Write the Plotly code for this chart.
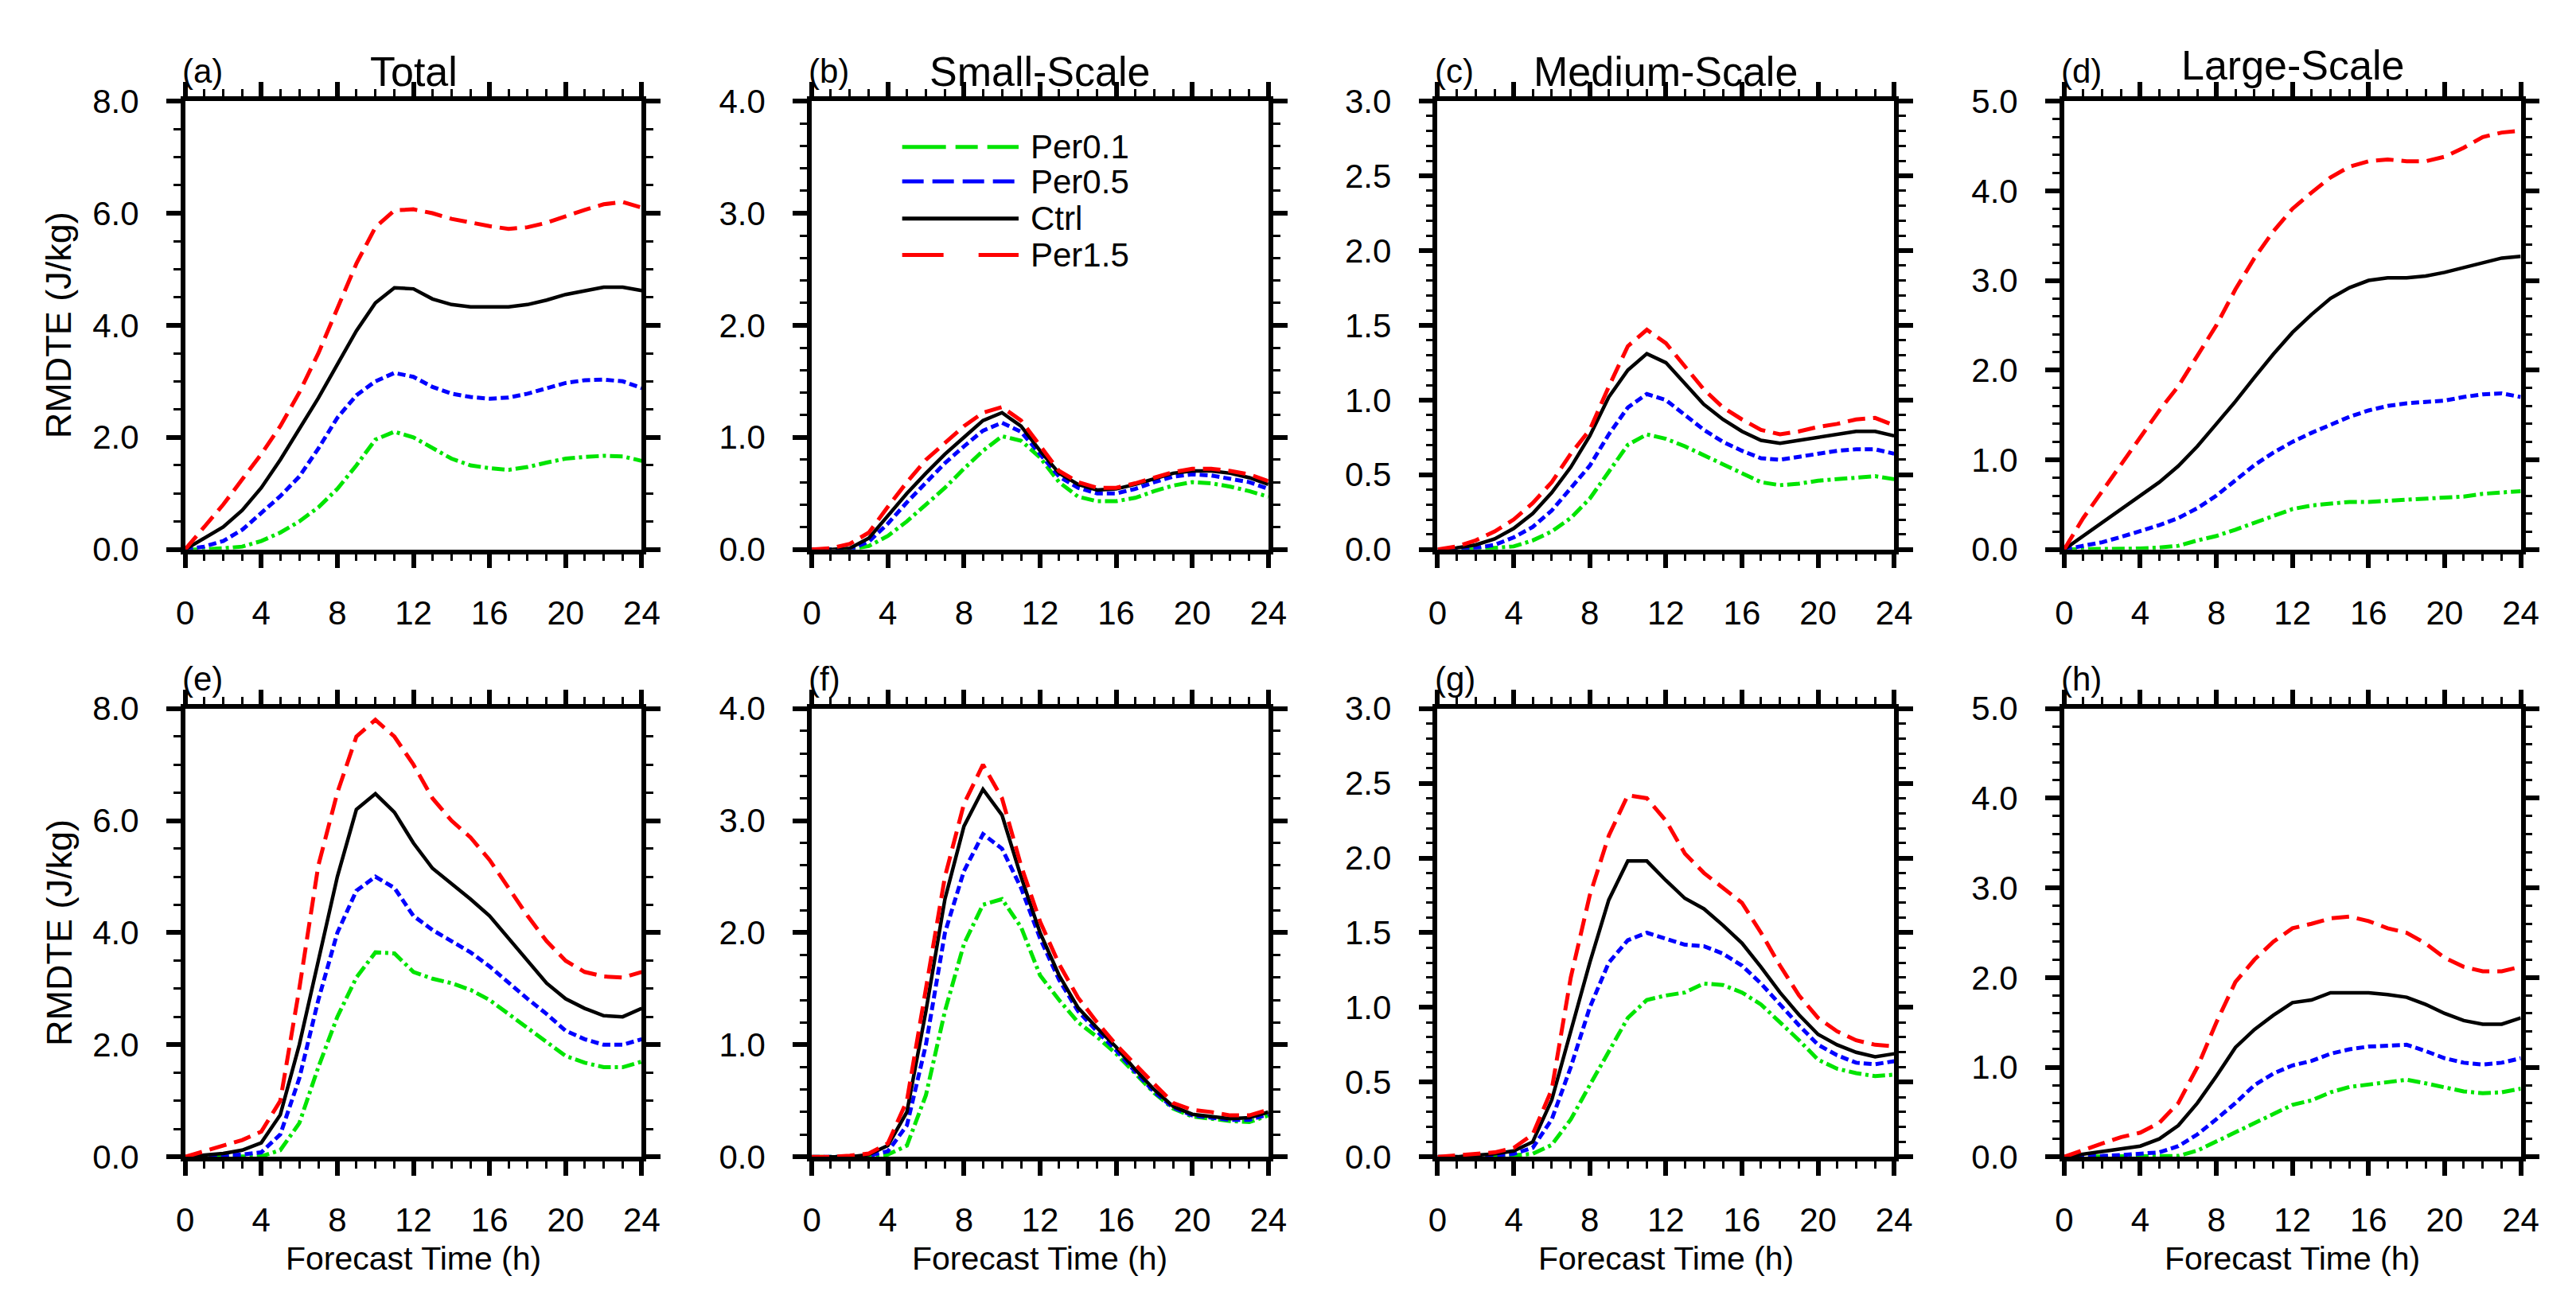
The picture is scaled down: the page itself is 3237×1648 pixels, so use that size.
"""
RMDTE growth by scale: 2x4 panel line chart (NCL-style) rebuilt with Plotly.
"""
import plotly.graph_objects as go

# ---- data ----
HOURS = list(range(25))

SERIES_NAMES = ['Per0.1', 'Per0.5', 'Ctrl', 'Per1.5']
PANEL_LABELS = ['(a)', '(b)', '(c)', '(d)', '(e)', '(f)', '(g)', '(h)']
COLUMN_TITLES = ['Total', 'Small-Scale', 'Medium-Scale', 'Large-Scale']
Y_MAX = [8.0, 4.0, 3.0, 5.0]
Y_DTICK = [2.0, 1.0, 0.5, 1.0]
Y_MINOR = [0.5, 0.2, 0.1, 0.2]
X_TICKS = [0, 4, 8, 12, 16, 20, 24]

# (a) Total, upper row
PER01_A = [0, 0, 0.02, 0.05, 0.15, 0.3, 0.5, 0.75, 1.08, 1.5, 1.96, 2.1, 2.0, 1.8, 1.62,
           1.5, 1.45, 1.42, 1.47, 1.55, 1.62, 1.65, 1.67, 1.66, 1.58]
PER05_A = [0, 0.05, 0.15, 0.35, 0.65, 0.95, 1.3, 1.8, 2.35, 2.75, 3.0, 3.15, 3.08, 2.9, 2.78,
           2.72, 2.69, 2.71, 2.78, 2.88, 2.97, 3.02, 3.03, 3.0, 2.88]
CTRL_A = [0, 0.2, 0.4, 0.7, 1.1, 1.6, 2.15, 2.7, 3.3, 3.9, 4.4, 4.67, 4.65, 4.47, 4.37,
          4.33, 4.33, 4.33, 4.37, 4.45, 4.55, 4.62, 4.68, 4.68, 4.62]
PER15_A = [0, 0.4, 0.8, 1.25, 1.7, 2.2, 2.8, 3.5, 4.3, 5.1, 5.75, 6.05, 6.07, 6.0, 5.9,
           5.83, 5.77, 5.72, 5.75, 5.83, 5.95, 6.06, 6.16, 6.2, 6.1]

# (b) Small-Scale, upper row
PER01_B = [0, 0, 0, 0.03, 0.12, 0.25, 0.4, 0.55, 0.72, 0.88, 1.01, 0.97, 0.82, 0.6, 0.47,
           0.43, 0.43, 0.46, 0.52, 0.57, 0.6, 0.59, 0.56, 0.52, 0.47]
PER05_B = [0, 0, 0, 0.07, 0.23, 0.42, 0.6, 0.77, 0.92, 1.06, 1.13, 1.05, 0.85, 0.65, 0.55,
           0.5, 0.5, 0.54, 0.6, 0.65, 0.67, 0.66, 0.63, 0.6, 0.54]
CTRL_B = [0, 0, 0.01, 0.1, 0.3, 0.5, 0.68, 0.85, 1.0, 1.15, 1.22, 1.1, 0.88, 0.68, 0.58,
          0.53, 0.54, 0.58, 0.63, 0.68, 0.7, 0.7, 0.68, 0.64, 0.58]
PER15_B = [0, 0.01, 0.05, 0.15, 0.38, 0.6, 0.8, 0.95, 1.1, 1.22, 1.27, 1.15, 0.92, 0.7, 0.6,
           0.55, 0.55, 0.59, 0.64, 0.69, 0.72, 0.72, 0.7, 0.67, 0.61]

# (c) Medium-Scale, upper row
PER01_C = [0, 0, 0, 0.01, 0.02, 0.06, 0.12, 0.21, 0.34, 0.52, 0.7, 0.77, 0.74, 0.69, 0.63,
           0.57, 0.51, 0.45, 0.43, 0.44, 0.46, 0.47, 0.48, 0.49, 0.47]
PER05_C = [0, 0, 0.01, 0.03, 0.08, 0.15, 0.26, 0.41, 0.56, 0.77, 0.95, 1.04, 1.0, 0.9, 0.8,
           0.72, 0.66, 0.61, 0.6, 0.62, 0.64, 0.66, 0.67, 0.67, 0.64]
CTRL_C = [0, 0.01, 0.03, 0.07, 0.14, 0.24, 0.38, 0.55, 0.76, 1.02, 1.2, 1.31, 1.25, 1.11, 0.97,
          0.87, 0.79, 0.73, 0.71, 0.73, 0.75, 0.77, 0.79, 0.79, 0.76]
PER15_C = [0, 0.02, 0.06, 0.12, 0.2, 0.31, 0.45, 0.64, 0.8, 1.09, 1.36, 1.47, 1.38, 1.22, 1.07,
           0.95, 0.87, 0.8, 0.77, 0.79, 0.82, 0.84, 0.87, 0.88, 0.83]

# (d) Large-Scale, upper row
PER01_D = [0, 0, 0, 0, 0.01, 0.02, 0.04, 0.1, 0.15, 0.22, 0.3, 0.37, 0.45, 0.49, 0.51,
           0.53, 0.53, 0.54, 0.55, 0.56, 0.57, 0.59, 0.62, 0.64, 0.65]
PER05_D = [0, 0.04, 0.08, 0.14, 0.2, 0.27, 0.35, 0.46, 0.6, 0.77, 0.94, 1.08, 1.2, 1.3, 1.39,
           1.48, 1.55, 1.6, 1.63, 1.64, 1.66, 1.7, 1.73, 1.74, 1.7]
CTRL_D = [0, 0.15, 0.3, 0.45, 0.59, 0.75, 0.93, 1.15, 1.4, 1.65, 1.92, 2.18, 2.42, 2.62, 2.8,
          2.92, 3.0, 3.03, 3.03, 3.05, 3.09, 3.14, 3.2, 3.25, 3.27]
PER15_D = [0, 0.35, 0.65, 0.95, 1.25, 1.55, 1.82, 2.15, 2.5, 2.9, 3.25, 3.55, 3.8, 3.98, 4.15,
           4.27, 4.33, 4.35, 4.33, 4.33, 4.38, 4.48, 4.6, 4.65, 4.67]

# (e) Total, lower row
PER01_E = [0, 0, 0, 0, 0.01, 0.12, 0.6, 1.6, 2.5, 3.2, 3.65, 3.63, 3.3, 3.18, 3.1,
           2.98, 2.8, 2.55, 2.3, 2.05, 1.8, 1.68, 1.6, 1.6, 1.7]
PER05_E = [0, 0.01, 0.02, 0.04, 0.08, 0.4, 1.4, 2.8, 4.0, 4.75, 5.0, 4.8, 4.3, 4.05, 3.85,
           3.65, 3.4, 3.1, 2.82, 2.55, 2.25, 2.1, 2.0, 2.0, 2.1]
CTRL_E = [0, 0.03, 0.06, 0.12, 0.25, 0.75, 2.0, 3.5, 5.0, 6.2, 6.48, 6.15, 5.6, 5.15, 4.88,
          4.6, 4.3, 3.9, 3.5, 3.1, 2.82, 2.65, 2.52, 2.5, 2.65]
PER15_E = [0, 0.1, 0.2, 0.3, 0.45, 1.0, 3.0, 5.2, 6.5, 7.5, 7.8, 7.5, 7.0, 6.4, 6.0,
           5.7, 5.3, 4.8, 4.3, 3.85, 3.5, 3.3, 3.22, 3.2, 3.3]

# (f) Small-Scale, lower row
PER01_F = [0, 0, 0, 0, 0.02, 0.1, 0.55, 1.3, 1.9, 2.25, 2.3, 2.05, 1.62, 1.4, 1.2,
           1.07, 0.92, 0.74, 0.57, 0.43, 0.36, 0.34, 0.32, 0.31, 0.37]
PER05_F = [0, 0, 0, 0.01, 0.05, 0.28, 1.0, 2.0, 2.55, 2.88, 2.75, 2.4, 1.95, 1.58, 1.3,
           1.12, 0.95, 0.76, 0.58, 0.44, 0.37, 0.35, 0.33, 0.33, 0.38]
CTRL_F = [0, 0, 0, 0.02, 0.1, 0.4, 1.3, 2.3, 2.95, 3.28, 3.05, 2.5, 2.0, 1.62, 1.33,
          1.15, 0.98, 0.78, 0.6, 0.45, 0.38, 0.36, 0.34, 0.35, 0.4]
PER15_F = [0, 0, 0.01, 0.03, 0.12, 0.5, 1.5, 2.5, 3.15, 3.5, 3.2, 2.6, 2.1, 1.72, 1.42,
           1.2, 1.0, 0.82, 0.65, 0.48, 0.42, 0.4, 0.37, 0.37, 0.42]

# (g) Medium-Scale, lower row
PER01_G = [0, 0, 0, 0, 0.01, 0.02, 0.08, 0.25, 0.48, 0.7, 0.93, 1.05, 1.08, 1.1, 1.16,
           1.15, 1.1, 1.02, 0.9, 0.78, 0.65, 0.59, 0.56, 0.54, 0.55]
PER05_G = [0, 0, 0, 0.01, 0.02, 0.06, 0.25, 0.6, 1.0, 1.3, 1.45, 1.5, 1.46, 1.42, 1.41,
           1.36, 1.28, 1.16, 1.02, 0.88, 0.75, 0.68, 0.63, 0.62, 0.64]
CTRL_G = [0, 0, 0.01, 0.02, 0.04, 0.1, 0.38, 0.85, 1.3, 1.72, 1.98, 1.98, 1.85, 1.73, 1.66,
          1.55, 1.43, 1.27, 1.1, 0.95, 0.82, 0.75, 0.7, 0.67, 0.69]
PER15_G = [0, 0.01, 0.02, 0.03, 0.06, 0.15, 0.45, 1.2, 1.75, 2.15, 2.42, 2.4, 2.25, 2.03, 1.9,
           1.8, 1.7, 1.5, 1.28, 1.08, 0.93, 0.84, 0.78, 0.75, 0.74]

# (h) Large-Scale, lower row
PER01_H = [0, 0, 0, 0, 0, 0, 0.01, 0.07, 0.17, 0.28, 0.38, 0.48, 0.58, 0.63, 0.72,
           0.78, 0.81, 0.84, 0.86, 0.82, 0.77, 0.73, 0.71, 0.72, 0.76]
PER05_H = [0, 0, 0.01, 0.02, 0.03, 0.05, 0.12, 0.25, 0.42, 0.6, 0.8, 0.93, 1.02, 1.07, 1.15,
           1.2, 1.23, 1.24, 1.25, 1.18, 1.1, 1.05, 1.03, 1.05, 1.1]
CTRL_H = [0, 0.03, 0.06, 0.09, 0.12, 0.2, 0.35, 0.6, 0.9, 1.22, 1.42, 1.58, 1.72, 1.75, 1.83,
          1.83, 1.83, 1.81, 1.78, 1.7, 1.6, 1.52, 1.48, 1.48, 1.55]
PER15_H = [0, 0.08, 0.15, 0.22, 0.27, 0.38, 0.6, 1.0, 1.5, 1.95, 2.2, 2.4, 2.55, 2.6, 2.66,
           2.68, 2.63, 2.55, 2.5, 2.38, 2.22, 2.12, 2.07, 2.07, 2.12]

PANELS = [
    [PER01_A, PER05_A, CTRL_A, PER15_A],
    [PER01_B, PER05_B, CTRL_B, PER15_B],
    [PER01_C, PER05_C, CTRL_C, PER15_C],
    [PER01_D, PER05_D, CTRL_D, PER15_D],
    [PER01_E, PER05_E, CTRL_E, PER15_E],
    [PER01_F, PER05_F, CTRL_F, PER15_F],
    [PER01_G, PER05_G, CTRL_G, PER15_G],
    [PER01_H, PER05_H, CTRL_H, PER15_H],
]

# ---- styling ----
W, H = 3237, 1648
FONT = 'Liberation Sans, Arial, Helvetica, sans-serif'
COLORS = ['#00e400', '#0000ff', '#000000', '#ff0000']
DASHES = ['16px,5px,4px,5px', '10px,5px', 'solid', '22px,10px']
LEGEND_DASHES = ['55px,12px,28px,12px', '27px,11px', 'solid', '52px,44px']
LINE_W = [5, 5, 4.5, 5]

PANEL_LEFT = [215, 1011, 1806, 2602]   # pixels
PANEL_W = 580
ROW_TOP = [99, 885]
ROW_H = 580
TITLE_SHIFT = [6, 6, 6, 14]


def px_x(v):
    return v / W


def px_y(v):
    return 1 - v / H


fig = go.Figure()

for i, series in enumerate(PANELS):
    row, col = divmod(i, 4)
    n = '' if i == 0 else str(i + 1)
    for name, vals, color, dash, lw in zip(SERIES_NAMES, series, COLORS, DASHES, LINE_W):
        fig.add_trace(go.Scatter(
            x=HOURS, y=vals, mode='lines', name=name,
            line=dict(color=color, width=lw, dash=dash),
            xaxis='x' + n, yaxis='y' + n, showlegend=False,
        ))

    left = PANEL_LEFT[col]
    top = ROW_TOP[row]
    common = dict(
        showline=True, linecolor='black', linewidth=5.5, mirror='allticks',
        ticks='outside', ticklen=18, tickwidth=5.5, tickcolor='black',
        showgrid=False, zeroline=False,
        tickfont=dict(family=FONT, size=42, color='black'),
    )
    fig.update_layout({
        'xaxis' + n: dict(
            domain=[px_x(left), px_x(left + PANEL_W)],
            anchor='y' + n, range=[0, 24], tickvals=X_TICKS,
            ticklabelstandoff=20,
            minor=dict(dtick=1, ticks='outside', ticklen=9, tickwidth=3, tickcolor='black'),
            **common,
        ),
        'yaxis' + n: dict(
            domain=[px_y(top + ROW_H), px_y(top)],
            anchor='x' + n, range=[0, Y_MAX[col]], dtick=Y_DTICK[col], tick0=0,
            tickformat='.1f', ticklabelstandoff=26,
            minor=dict(dtick=Y_MINOR[col], ticks='outside', ticklen=9, tickwidth=3,
                       tickcolor='black'),
            **common,
        ),
    })

    # panel letter
    fig.add_annotation(
        text=PANEL_LABELS[i], xref='paper', yref='paper',
        x=px_x(left - 6), y=px_y(top), xanchor='left', yanchor='bottom', yshift=12,
        showarrow=False, font=dict(family=FONT, size=42, color='black'),
    )
    # column title on top row
    if row == 0:
        fig.add_annotation(
            text=COLUMN_TITLES[col], xref='paper', yref='paper',
            x=px_x(left + PANEL_W / 2), y=px_y(top), xanchor='center', yanchor='bottom',
            yshift=TITLE_SHIFT[col], showarrow=False,
            font=dict(family=FONT, size=52, color='black'),
        )
    # y title on the left column
    if col == 0:
        fig.add_annotation(
            text='RMDTE (J/kg)', xref='paper', yref='paper',
            x=px_x(55), y=px_y(top + ROW_H / 2), textangle=-90,
            xanchor='center', yanchor='middle', showarrow=False,
            font=dict(family=FONT, size=45, color='black'),
        )
    # x title on the bottom row
    if row == 1:
        fig.add_annotation(
            text='Forecast Time (h)', xref='paper', yref='paper',
            x=px_x(left + PANEL_W / 2), y=px_y(1597), xanchor='center', yanchor='middle',
            showarrow=False, font=dict(family=FONT, size=41, color='black'),
        )

# legend drawn inside panel (b), NCL style
LEG_Y = [0.898, 0.821, 0.738, 0.657]
for name, color, dash, ly in zip(SERIES_NAMES, COLORS, LEGEND_DASHES, LEG_Y):
    fig.add_shape(
        type='line', xref='x2 domain', yref='y2 domain',
        x0=0.198, x1=0.453, y0=ly, y1=ly,
        line=dict(color=color, width=5, dash=dash),
    )
    fig.add_annotation(
        text=name, xref='x2 domain', yref='y2 domain', x=0.475, y=ly,
        xanchor='left', yanchor='middle', showarrow=False,
        font=dict(family=FONT, size=42, color='black'),
    )

fig.update_layout(
    width=W, height=H,
    margin=dict(l=0, r=0, t=0, b=0),
    paper_bgcolor='white', plot_bgcolor='white',
    showlegend=False,
)

fig.write_html('out.html')
